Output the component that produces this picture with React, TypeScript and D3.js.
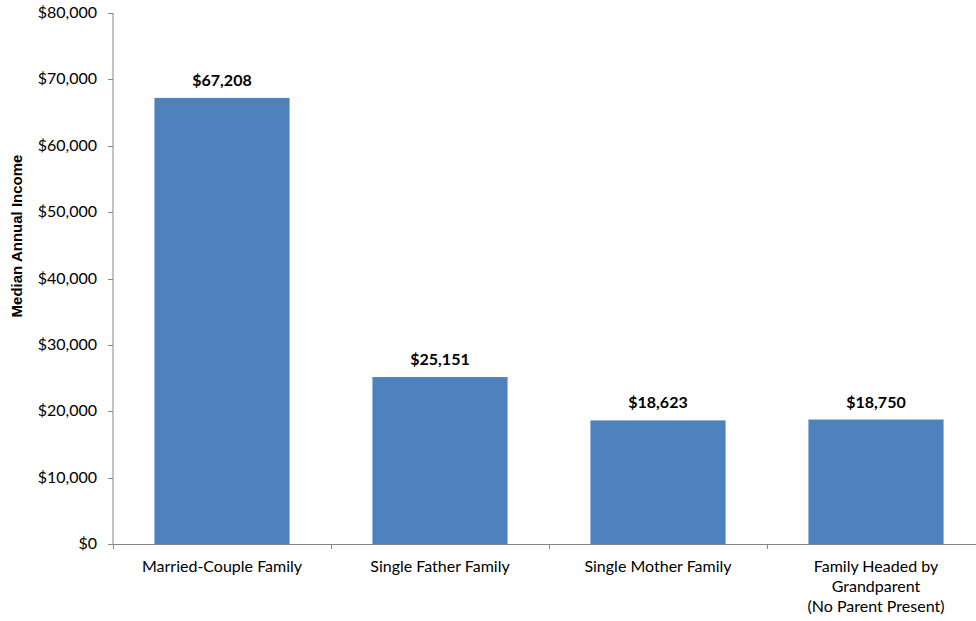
import React from "react";
import * as d3 from "d3";

const categories: string[][] = [
  ["Married-Couple Family"],
  ["Single Father Family"],
  ["Single Mother Family"],
  ["Family Headed by", "Grandparent", "(No Parent Present)"],
];
const values: number[] = [67208, 25151, 18623, 18750];
const yTicks: number[] = [0, 10000, 20000, 30000, 40000, 50000, 60000, 70000, 80000];
const yTitle = "Median Annual Income";

export default function App() {
  const W = 976, H = 621;
  const left = 113, right = 985, top = 13, bottom = 544;
  const x = d3.scaleBand<number>().domain(d3.range(values.length)).range([left, right]).paddingInner(0.38).paddingOuter(0.19);
  const y = d3.scaleLinear().domain([0, 80000]).range([bottom, top]);
  const fmt = (v: number) => "$" + d3.format(",")(v);
  const font = "Lato, 'Open Sans', sans-serif";
  const axisColor = "#868686";
  const step = (right - left) / values.length;
  return (
    <svg width={W} height={H} style={{ position: "absolute", left: 0, top: 0, background: "#fff" }} fontFamily={font}>
      {values.map((v, i) => (
        <g key={i}>
          <rect x={x(i)} y={y(v)} width={x.bandwidth()} height={bottom - y(v)} fill="#4F81BD" />
          <text x={x(i)! + x.bandwidth() / 2} y={y(v) - 12} textAnchor="middle" fontWeight="bold" fontSize={16} fill="#000">{fmt(v)}</text>
          {categories[i].map((line, j) => (
            <text key={j} x={x(i)! + x.bandwidth() / 2} y={572 + j * 20} textAnchor="middle" fontSize={16} fill="#000">{line}</text>
          ))}
        </g>
      ))}
      <line x1={left} x2={left} y1={top} y2={bottom} stroke={axisColor} />
      <line x1={left} x2={W} y1={bottom + 0.5} y2={bottom + 0.5} stroke={axisColor} />
      {yTicks.map((t) => (
        <g key={t}>
          <line x1={left - 5} x2={left} y1={Math.round(y(t)) + 0.5} y2={Math.round(y(t)) + 0.5} stroke={axisColor} />
          <text x={97} y={y(t) + 5} textAnchor="end" fontSize={16} fill="#000">{fmt(t)}</text>
        </g>
      ))}
      {d3.range(values.length + 1).map((i) => (
        <line key={i} x1={left + i * step + 0.5} x2={left + i * step + 0.5} y1={bottom} y2={bottom + 5} stroke={axisColor} />
      ))}
      <text transform={`translate(22,236) rotate(-90)`} textAnchor="middle" fontWeight="bold" fontSize={15} fontFamily="Arial, 'Liberation Sans', sans-serif" fill="#000">{yTitle}</text>
    </svg>
  );
}
